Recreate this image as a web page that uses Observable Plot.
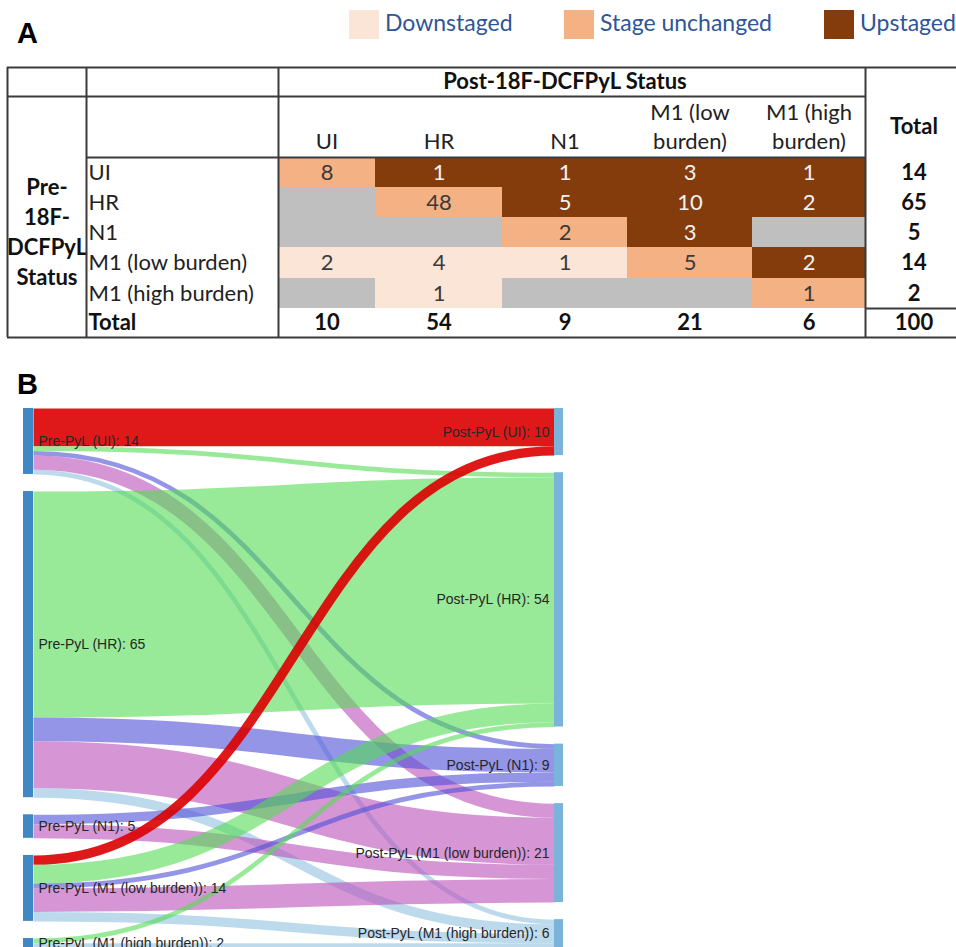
<!DOCTYPE html>
<html>
<head>
<meta charset="utf-8">
<script src="https://cdn.jsdelivr.net/npm/d3@7"></script>
<script src="https://cdn.jsdelivr.net/npm/@observablehq/plot@0.6"></script>
<style>
  body { margin: 0; background: #fff; }
  #page { position: relative; width: 956px; height: 947px; overflow: hidden; background: #fff; }
  .panel { position: absolute; left: 0; }
  .plabel { position: absolute; font-family: "Liberation Sans", Arial, sans-serif; font-weight: bold; font-size: 29px; line-height: 29px; color: #000; }
  .sw { position: absolute; top: 10px; width: 30px; height: 29px; }
  .lt { position: absolute; top: 11px; font-family: Lato, sans-serif; font-size: 23px; line-height: 23px; color: #2f5597; white-space: nowrap; }
</style>
</head>
<body>
<div id="page"></div>
<script>
// ---------------- DATA ----------------
const stages = ["UI", "HR", "N1", "M1 (low burden)", "M1 (high burden)"];
const postHeaders = ["UI", "HR", "N1", "M1 (low\nburden)", "M1 (high\nburden)"];
// rows = pre-18F-DCFPyL status, columns = post-18F-DCFPyL status (null = no patients)
const countsUI     = [8, 1, 1, 3, 1];
const countsHR     = [null, 48, 5, 10, 2];
const countsN1     = [null, null, 2, 3, null];
const countsM1low  = [2, 4, 1, 5, 2];
const countsM1high = [null, 1, null, null, 1];
const counts = [countsUI, countsHR, countsN1, countsM1low, countsM1high];
const rowTotals = [14, 65, 5, 14, 2];
const colTotals = [10, 54, 9, 21, 6];
const grandTotal = 100;
const legendLabels = ["Downstaged", "Stage unchanged", "Upstaged"];
const postTitle = "Post-18F-DCFPyL Status";
const preTitle = "Pre-\n18F-\nDCFPyL\nStatus";
const totalLabel = "Total";
const prePrefix = "Pre-PyL";
const postPrefix = "Post-PyL";

// ---------------- STYLES / LAYOUT ----------------
const statusColors = ["#fbe5d6", "#f4b183", "#843c0c", "#bfbfbf"];
const legendSwatchLeft = [349, 564, 824];
const legendTextLeft = [385, 600, 860];
const lineColor = "#3b3b3b";
const linkColors = ["#dc0000", "#53dc53", "#4e4ed9", "#bb50bb", "#8fc1df"];
const linkOpacity = [0.9, 0.6, 0.6, 0.6, 0.6];

const page = document.getElementById("page");

function addDiv(cls, text, left, top, extra) {
  const d = document.createElement("div");
  d.className = cls;
  if (text != null) d.textContent = text;
  d.style.left = left + "px";
  if (top != null) d.style.top = top + "px";
  if (extra) Object.assign(d.style, extra);
  page.appendChild(d);
  return d;
}

// panel labels
addDiv("plabel", "A", 17, 19);
addDiv("plabel", "B", 17, 370);

// legend
legendLabels.forEach((lab, i) => {
  addDiv("sw", null, legendSwatchLeft[i], null, {background: statusColors[i]});
  addDiv("lt", lab, legendTextLeft[i], null);
});

// ---------------- PANEL A : table ----------------
const nC = stages.length;
const cells = [];
counts.forEach((row, i) => row.forEach((v, j) => {
  cells.push({row: i, col: j, value: v,
    status: v == null ? "none" : j < i ? legendLabels[0] : j === i ? legendLabels[1] : legendLabels[2]});
}));
const filled = cells.filter(d => d.value != null);

// column/row edges of the table grid (index -> pixel)
const colEdges = [7, 86, 278, 375, 502, 627, 752, 865, 962];
const rowEdges = [67, 96, 157, 187, 217, 247, 278, 308, 337];
const lastCol = nC + 2;   // index of the Total column
const lastRow = nC + 2;   // index of the Total row

const tfont = {fontFamily: "Lato, sans-serif", fontSize: 22};
const table = Plot.plot({
  width: 956, height: 345,
  marginTop: 0, marginRight: 0, marginBottom: 0, marginLeft: 0,
  style: {background: "transparent", fontFamily: "Lato, sans-serif", fontSize: "22px"},
  x: {type: "linear", domain: d3.range(colEdges.length), range: colEdges, axis: null},
  y: {type: "linear", domain: d3.range(rowEdges.length), range: rowEdges, axis: null},
  color: {domain: [...legendLabels, "none"], range: statusColors},
  marks: [
    Plot.rect(cells, {x1: d => d.col + 2, x2: d => d.col + 3, y1: d => d.row + 2, y2: d => d.row + 3,
      fill: "status", shapeRendering: "crispEdges"}),
    // numbers
    Plot.text(filled.filter(d => d.status === legendLabels[2]), {x: d => d.col + 2.5, y: d => d.row + 2.5,
      text: d => String(d.value), fill: "#f2f2f2", ...tfont}),
    Plot.text(filled.filter(d => d.status !== legendLabels[2]), {x: d => d.col + 2.5, y: d => d.row + 2.5,
      text: d => String(d.value), fill: "#3a3a3a", ...tfont}),
    // row labels
    Plot.text(stages, {x: 1, y: (d, i) => i + 2.5, text: d => d, textAnchor: "start", dx: 2, fill: "#222", ...tfont}),
    Plot.text([totalLabel], {x: 1, y: lastRow + 0.5, text: d => d, textAnchor: "start", dx: 2, fill: "#111", fontWeight: "bold", ...tfont}),
    // totals
    Plot.text(colTotals, {x: (d, i) => i + 2.5, y: lastRow + 0.5, text: d => String(d), fill: "#111", fontWeight: "bold", ...tfont}),
    Plot.text(rowTotals, {x: lastCol + 0.5, y: (d, i) => i + 2.5, text: d => String(d), fill: "#111", fontWeight: "bold", ...tfont}),
    Plot.text([grandTotal], {x: lastCol + 0.5, y: lastRow + 0.5, text: d => String(d), fill: "#111", fontWeight: "bold", ...tfont}),
    // headers
    Plot.text([postTitle], {x: 2 + nC / 2, y: 0.5, text: d => d, fill: "#111", fontWeight: "bold", ...tfont}),
    Plot.text(postHeaders, {x: (d, i) => i + 2.5, y: 1.86, text: d => d, lineAnchor: "bottom", lineHeight: 1.32, fill: "#222", ...tfont}),
    Plot.text([totalLabel], {x: lastCol + 0.5, y: 1.5, text: d => d, fill: "#111", fontWeight: "bold", ...tfont}),
    Plot.text([preTitle], {x: 0.5, y: 2 + nC / 2 - 0.08, text: d => d, lineHeight: 1.36, fill: "#111", fontWeight: "bold", ...tfont}),
    // grid lines
    Plot.ruleX([0, 1, 2, lastCol], {y1: 0, y2: lastRow + 1, stroke: lineColor, strokeWidth: 2}),
    Plot.ruleY([
      {y: 0, x1: 0, x2: lastCol + 1},
      {y: 1, x1: 0, x2: lastCol},
      {y: 2, x1: 1, x2: lastCol},
      {y: lastRow, x1: lastCol, x2: lastCol + 1},
      {y: lastRow + 1, x1: 0, x2: lastCol + 1}
    ], {y: "y", x1: "x1", x2: "x2", stroke: lineColor, strokeWidth: 2})
  ]
});
table.classList.add("panel");
table.style.top = "0px";
page.appendChild(table);

// ---------------- PANEL B : sankey ----------------
const gap = 3.63; // gap between nodes, in patient units
const leftNodes = stages.map((s, i) => ({i, label: `${prePrefix} (${s}): ${rowTotals[i]}`,
  y0: d3.sum(rowTotals.slice(0, i)) + i * gap, value: rowTotals[i]}));
const rightNodes = stages.map((s, i) => ({i, label: `${postPrefix} (${s}): ${colTotals[i]}`,
  y0: d3.sum(colTotals.slice(0, i)) + i * gap, value: colTotals[i]}));
[...leftNodes, ...rightNodes].forEach(n => { n.y1 = n.y0 + n.value; n.ym = (n.y0 + n.y1) / 2; });

const links = [];
counts.forEach((row, i) => row.forEach((v, j) => { if (v) links.push({source: i, target: j, value: v}); }));
const sOff = rowTotals.map(() => 0), tOff = colTotals.map(() => 0);
links.forEach(l => { l.sy = leftNodes[l.source].y0 + sOff[l.source] + l.value / 2; sOff[l.source] += l.value; });
links.forEach(l => { l.ty = rightNodes[l.target].y0 + tOff[l.target] + l.value / 2; tOff[l.target] += l.value; });
const linkPts = links.flatMap((l, k) => [
  {id: k, x: 0, y: l.sy, value: l.value, target: l.target},
  {id: k, x: 1, y: l.ty, value: l.value, target: l.target}
]);

const sTop = 350;
const yDom = [0, d3.sum(rowTotals) + (stages.length - 1) * gap];
const yRng = [408 - sTop, 947.4 - sTop];
const pxPerUnit = (yRng[1] - yRng[0]) / (yDom[1] - yDom[0]);
const xRng = [33, 554];
const nodeWL = 10 / (xRng[1] - xRng[0]);
const nodeWR = 9 / (xRng[1] - xRng[0]);
const sfont = {fontFamily: "'Liberation Sans', Arial, sans-serif", fontSize: 14, fill: "#262626"};

const sankey = Plot.plot({
  width: 956, height: 947 - sTop,
  marginTop: 0, marginRight: 0, marginBottom: 0, marginLeft: 0,
  style: {background: "transparent", fontFamily: "'Liberation Sans', Arial, sans-serif", overflow: "hidden"},
  x: {domain: [0, 1], range: xRng, axis: null},
  y: {domain: yDom, range: yRng, axis: null},
  marks: [
    Plot.line(linkPts, {x: "x", y: "y", z: "id", curve: "bump-x",
      stroke: d => linkColors[d.target], strokeOpacity: d => linkOpacity[d.target],
      strokeWidth: d => d.value * pxPerUnit, strokeLinecap: "butt"}),
    Plot.rect(leftNodes, {x1: -nodeWL, x2: 0, y1: "y0", y2: "y1", fill: "#3f88c5"}),
    Plot.rect(rightNodes, {x1: 1, x2: 1 + nodeWR, y1: "y0", y2: "y1", fill: "#7ab4da"}),
    Plot.text(leftNodes, {x: 0, y: "ym", text: "label", textAnchor: "start", dx: 5, ...sfont}),
    Plot.text(rightNodes, {x: 1, y: "ym", text: "label", textAnchor: "end", dx: -5, ...sfont})
  ]
});
sankey.classList.add("panel");
sankey.style.top = sTop + "px";
page.appendChild(sankey);
</script>
</body>
</html>
